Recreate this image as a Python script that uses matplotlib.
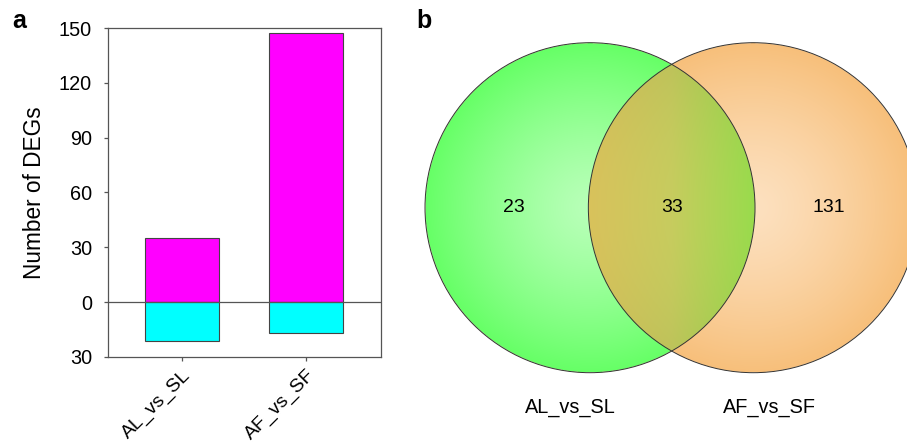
import numpy as np
import matplotlib.pyplot as plt
from matplotlib.patches import Circle

plt.rcParams['font.family'] = ['Liberation Sans', 'DejaVu Sans']

# panel a data
groups = ['AL_vs_SL', 'AF_vs_SF']
up = [35, 147]
down = [21, 17]
yticks = [-30, 0, 30, 60, 90, 120, 150]
ytick_labels = ['30', '0', '30', '60', '90', '120', '150']

# panel b data
venn_sets = ['AL_vs_SL', 'AF_vs_SF']
only_a, both, only_b = 23, 33, 131

fig = plt.figure(figsize=(9.07, 4.47), dpi=100)

# ---- panel a
ax = fig.add_axes([108 / 907, 90 / 447, 273 / 907, 329 / 447])
x = np.arange(len(groups))
ax.bar(x, up, width=0.6, color='#ff00ff', edgecolor='#444444', linewidth=0.8, zorder=2)
ax.bar(x, [-d for d in down], width=0.6, color='#00ffff', edgecolor='#444444', linewidth=0.8, zorder=2)
ax.axhline(0, color='#555555', linewidth=0.9, zorder=3)
ax.set_xlim(-0.597, 1.605)
ax.set_ylim(-30, 150)
ax.set_yticks(yticks)
ax.set_yticklabels(ytick_labels, fontsize=14.3)
ax.set_xticks(x)
ax.set_xticklabels(groups, fontsize=14, rotation=45, ha='right', rotation_mode='anchor')
ax.set_ylabel('Number of DEGs', fontsize=16.3, labelpad=9)
for s in ax.spines.values():
    s.set_color('#555555')
    s.set_linewidth(0.9)
ax.tick_params(direction='out', length=3, color='#555555', width=0.9)
ax.tick_params(axis='y', pad=8.5)
ax.tick_params(axis='x', pad=4)
fig.text(12 / 907, 1 - 21 / 447, 'a', fontsize=18, fontweight='bold', va='center')

# ---- panel b (venn)
r = 1.0
d = 0.99
ca = np.array([0.0, 0.0])
cb = np.array([d, 0.0])
x0, x1 = -190 / 165, 317 / 165
y0, y1 = -239.3 / 165, 207.7 / 165
bx = fig.add_axes([400 / 907, 0, 507 / 907, 1])
bx.set_xlim(x0, x1)
bx.set_ylim(y0, y1)
bx.axis('off')

nx, ny = 1000, 880
gx, gy = np.meshgrid(np.linspace(x0, x1, nx), np.linspace(y1, y0, ny))
da = np.hypot(gx - ca[0], gy - ca[1]) / r
db = np.hypot(gx - cb[0], gy - cb[1]) / r
in_a = da <= 1
in_b = db <= 1

green_c = np.array([0.72, 1.0, 0.72])
green_e = np.array([0.40, 1.0, 0.40])
orange_c = np.array([0.99, 0.88, 0.75])
orange_e = np.array([0.97, 0.75, 0.48])
tan = np.array([0.85, 0.76, 0.36])
mid = np.array([0.78, 0.80, 0.37])
grn = np.array([0.60, 0.86, 0.30])

img = np.zeros((ny, nx, 4))
ta = np.clip(da, 0, 1)[..., None] ** 1.3
tb = np.clip(db, 0, 1)[..., None] ** 1.3
ga = green_c * (1 - ta) + green_e * ta
gb = orange_c * (1 - tb) + orange_e * tb
img[..., :3] = np.where(in_a[..., None], ga, gb)
# lens region: shift from tan (left) to green (right)
lx = d - r
rx = r
u = np.clip((gx - lx) / (rx - lx), 0, 1)[..., None]
lens = np.where(u < 0.5, tan * (1 - 2 * u) + mid * 2 * u, mid * (2 - 2 * u) + grn * (2 * u - 1))
lens = lens * (1 - 0.06 * (np.abs(gy) / r)[..., None] ** 2)
both_in = in_a & in_b
img[..., :3] = np.where(both_in[..., None], lens, img[..., :3])
img[..., 3] = (in_a | in_b).astype(float)
bx.imshow(img, extent=(x0, x1, y0, y1), origin='upper', interpolation='bilinear', zorder=1)

for c in (ca, cb):
    bx.add_patch(Circle(c, r, fill=False, edgecolor='#333333', linewidth=0.7, zorder=2))

bx.text(-0.46, 0, str(only_a), fontsize=14, ha='center', va='center', zorder=3)
bx.text(d / 2, 0, str(both), fontsize=14, ha='center', va='center', zorder=3)
bx.text(1.45, 0, str(only_b), fontsize=14, ha='center', va='center', zorder=3)
bx.text(-0.12, -1.21, venn_sets[0], fontsize=14.3, ha='center', va='center')
bx.text(1.09, -1.21, venn_sets[1], fontsize=14.3, ha='center', va='center')
fig.text(416 / 907, 1 - 21 / 447, 'b', fontsize=18, fontweight='bold', va='center')

fig.savefig('out.png', dpi=100)
